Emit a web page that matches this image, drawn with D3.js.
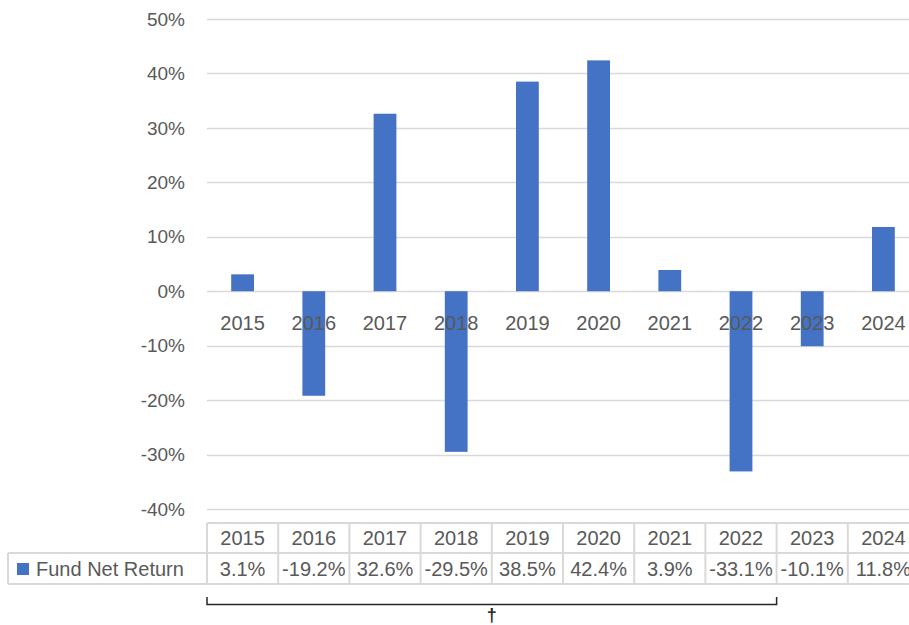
<!DOCTYPE html>
<html>
<head>
<meta charset="utf-8">
<script src="https://cdn.jsdelivr.net/npm/d3@7"></script>
<style>
  body { margin: 0; background: #fff; }
  text { font-family: "Liberation Sans", Arial, sans-serif; fill: #595959; }
</style>
</head>
<body>
<svg width="909" height="625"></svg>
<script>
var years = ["2015", "2016", "2017", "2018", "2019", "2020", "2021", "2022", "2023", "2024"];
var returns = [0.031, -0.192, 0.326, -0.295, 0.385, 0.424, 0.039, -0.331, -0.101, 0.118];
var yTicks = [-0.4, -0.3, -0.2, -0.1, 0, 0.1, 0.2, 0.3, 0.4, 0.5];
var seriesName = "Fund Net Return";

var svg = d3.select("svg");
var plotLeft = 207, plotRight = 919, plotTop = 19, plotBottom = 509;
var grid = "#d9d9d9", blue = "#4472c4";

var x = d3.scaleBand().domain(years).range([plotLeft, plotRight])
    .paddingInner(0.68).paddingOuter(0.34);
var col = d3.scaleBand().domain(years).range([plotLeft, plotRight]);
var y = d3.scaleLinear().domain([-0.4, 0.5]).range([plotBottom, plotTop]);

// excel style: plain hyphen for negatives
var loc = d3.formatLocale({decimal: ".", thousands: ",", grouping: [3], currency: ["$", ""], minus: "-"});
var pct = loc.format(".0%"), pct1 = loc.format(".1%");

// gridlines
svg.append("g").selectAll("line")
    .data(yTicks)
  .enter().append("line")
    .attr("x1", plotLeft).attr("x2", 909)
    .attr("y1", function(d) { return Math.round(y(d)) + 0.5; })
    .attr("y2", function(d) { return Math.round(y(d)) + 0.5; })
    .attr("stroke", grid).attr("stroke-width", 1.5);

// y labels
svg.append("g").selectAll("text")
    .data(yTicks)
  .enter().append("text")
    .attr("x", 185)
    .attr("y", function(d) { return y(d); })
    .attr("dy", "0.35em")
    .attr("text-anchor", "end")
    .attr("font-size", "19px")
    .text(function(d) { return pct(d); });

// bars
svg.append("g").selectAll("rect")
    .data(returns)
  .enter().append("rect")
    .attr("x", function(d, i) { return x(years[i]); })
    .attr("y", function(d) { return y(Math.max(0, d)); })
    .attr("width", x.bandwidth())
    .attr("height", function(d) { return Math.abs(y(d) - y(0)); })
    .attr("fill", blue);

// category labels next to the zero line (drawn over bars)
svg.append("g").selectAll("text")
    .data(years)
  .enter().append("text")
    .attr("x", function(d) { return col(d) + col.bandwidth() / 2; })
    .attr("y", 323)
    .attr("dy", "0.35em")
    .attr("text-anchor", "middle")
    .attr("font-size", "20px")
    .text(function(d) { return d; });

// data table
var tb = svg.append("g");
var r0 = 523, r1 = 553, r2 = 584;
tb.append("line").attr("x1", plotLeft).attr("x2", 909).attr("y1", r0).attr("y2", r0);
tb.append("line").attr("x1", 8).attr("x2", 909).attr("y1", r1).attr("y2", r1);
tb.append("line").attr("x1", 8).attr("x2", 909).attr("y1", r2).attr("y2", r2);
tb.append("line").attr("x1", 8).attr("x2", 8).attr("y1", r1).attr("y2", r2);
tb.selectAll(".vline")
    .data(years)
  .enter().append("line")
    .attr("class", "vline")
    .attr("x1", function(d) { return col(d); })
    .attr("x2", function(d) { return col(d); })
    .attr("y1", r0).attr("y2", r2);
tb.selectAll("line").attr("stroke", grid).attr("stroke-width", 2);

tb.selectAll(".hdr")
    .data(years)
  .enter().append("text")
    .attr("class", "hdr")
    .attr("x", function(d) { return col(d) + col.bandwidth() / 2; })
    .attr("y", (r0 + r1) / 2)
    .attr("dy", "0.35em")
    .attr("text-anchor", "middle")
    .attr("font-size", "20px")
    .text(function(d) { return d; });

tb.selectAll(".val")
    .data(returns)
  .enter().append("text")
    .attr("class", "val")
    .attr("x", function(d, i) { return col(years[i]) + col.bandwidth() / 2; })
    .attr("y", (r1 + r2) / 2)
    .attr("dy", "0.35em")
    .attr("text-anchor", "middle")
    .attr("font-size", "20px")
    .text(function(d) { return pct1(d); });

tb.append("rect")
    .attr("x", 17).attr("y", 563)
    .attr("width", 12).attr("height", 12)
    .attr("fill", blue);
tb.append("text")
    .attr("x", 36)
    .attr("y", (r1 + r2) / 2)
    .attr("dy", "0.35em")
    .attr("font-size", "20px")
    .text(seriesName);

// bracket and dagger under 2015-2022
var bx0 = col("2015"), bx1 = col("2022") + col.bandwidth();
svg.append("path")
    .attr("d", "M" + bx0 + ",597V604.5H" + bx1 + "V597")
    .attr("fill", "none")
    .attr("stroke", "#262626")
    .attr("stroke-width", 1.5);
svg.append("text")
    .attr("x", (bx0 + bx1) / 2)
    .attr("y", 615)
    .attr("dy", "0.35em")
    .attr("text-anchor", "middle")
    .attr("font-size", "18px")
    .attr("font-weight", "bold")
    .style("fill", "#262626")
    .text("†");
</script>
</body>
</html>
